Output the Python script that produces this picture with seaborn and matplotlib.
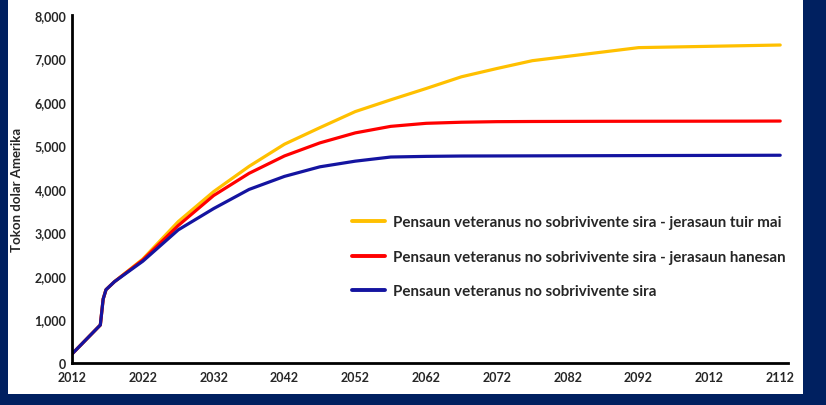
import matplotlib
matplotlib.use("Agg")
import matplotlib.pyplot as plt
import seaborn as sns
import pandas as pd
from matplotlib.patches import Rectangle

years = [2012, 2016, 2016.4, 2016.8, 2018, 2022, 2027, 2032, 2037, 2042, 2047, 2052,
         2057, 2062, 2067, 2072, 2077, 2082, 2087, 2092, 2097, 2102, 2107, 2112]

gold_vals = [207, 874, 1470, 1685, 1870, 2390, 3250, 3940, 4520, 5030, 5410, 5780,
             6050, 6310, 6580, 6770, 6950, 7050, 7150, 7250, 7265, 7280, 7295, 7310]
red_vals = [207, 874, 1470, 1685, 1870, 2370, 3160, 3850, 4360, 4760, 5060, 5290,
            5440, 5510, 5535, 5548, 5552, 5554, 5556, 5557, 5558, 5559, 5560, 5562]
blue_vals = [207, 874, 1470, 1685, 1870, 2340, 3060, 3550, 3990, 4290, 4510, 4640,
             4735, 4750, 4758, 4760, 4762, 4764, 4766, 4768, 4770, 4772, 4774, 4776]

series_names = [
    "Pensaun veteranus no sobrivivente sira - jerasaun tuir mai",
    "Pensaun veteranus no sobrivivente sira - jerasaun hanesan",
    "Pensaun veteranus no sobrivivente sira",
]
series_colors = ["#FFC000", "#FF0000", "#1414A0"]

x_ticks = [2012, 2022, 2032, 2042, 2052, 2062, 2072, 2082, 2092, 2102, 2112]
x_tick_labels = ["2012", "2022", "2032", "2042", "2052", "2062", "2072", "2082", "2092", "2012", "2112"]
y_ticks = [0, 1000, 2000, 3000, 4000, 5000, 6000, 7000, 8000]
y_tick_labels = ["0", "1,000", "2,000", "3,000", "4,000", "5,000", "6,000", "7,000", "8,000"]
y_label = "Tokon dolar Amerika"

rows = []
for name, vals in zip(series_names, [gold_vals, red_vals, blue_vals]):
    for yr, v in zip(years, vals):
        rows.append({"Tinan": yr, "Valor": v, "Serie": name})
df = pd.DataFrame(rows)

sns.set_theme(style="white")
plt.rcParams['font.family'] = ['Lato', 'DejaVu Sans']

NAVY = "#002060"
fig = plt.figure(figsize=(8.26, 4.06), dpi=100, facecolor=NAVY)
fig.patches.append(Rectangle((8 / 826, 11 / 406), 795 / 826, 395 / 406,
                             transform=fig.transFigure, facecolor="white",
                             edgecolor="none", zorder=-10))
ax = fig.add_axes([72 / 826, 42 / 406, 716 / 826, 348 / 406])
ax.set_facecolor("none")

sns.lineplot(data=df, x="Tinan", y="Valor", hue="Serie", hue_order=series_names,
             palette=series_colors, linewidth=2.3, ax=ax, sort=False)

ax.set_xlim(2012, 2113.1)
ax.set_ylim(0, 8000)
ax.set_xticks(x_ticks)
ax.set_xticklabels(x_tick_labels, fontsize=9, fontweight="bold")
ax.set_yticks(y_ticks)
ax.set_yticklabels(y_tick_labels, fontsize=9, fontweight="bold")
ax.tick_params(axis="y", length=0, pad=4)
ax.tick_params(axis="x", length=0, pad=6)
ax.set_xlabel("")
ax.set_ylabel(y_label, fontsize=9.5, fontweight="bold", labelpad=8)

for s in ["top", "right"]:
    ax.spines[s].set_visible(False)
for s in ["left", "bottom"]:
    ax.spines[s].set_color("black")
    ax.spines[s].set_linewidth(2.0)

leg = ax.legend(loc="center left", bbox_to_anchor=(0.391, 0.305), frameon=False,
                prop={"weight": "bold", "size": 10.9}, handlelength=2.2,
                handletextpad=0.5, labelspacing=1.35, borderpad=0, borderaxespad=0)
for line in leg.get_lines():
    line.set_linewidth(2.8)

fig.savefig("out.png", dpi=100, facecolor=NAVY)
